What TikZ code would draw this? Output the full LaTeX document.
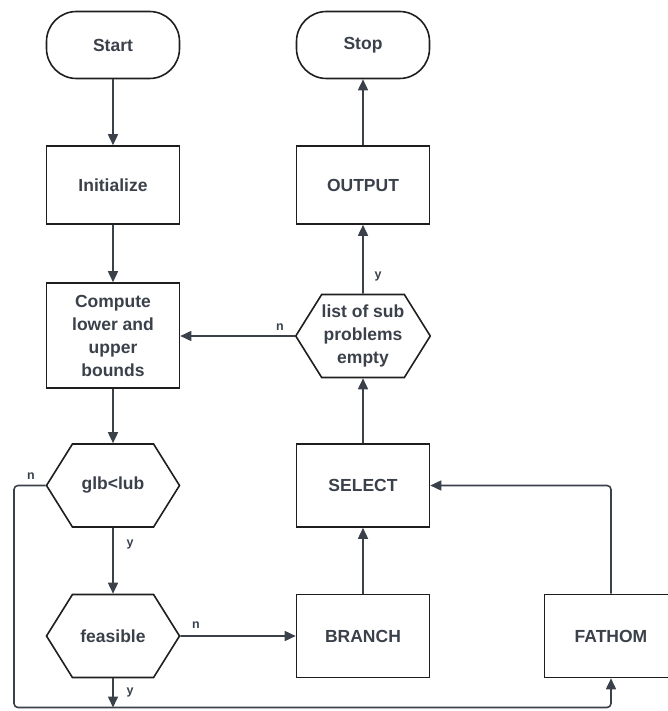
\documentclass[tikz,border=0pt]{standalone}
\usepackage{fontspec}
\setmainfont{Liberation Sans}
\usetikzlibrary{arrows.meta,shapes.symbols}
\definecolor{ink}{HTML}{3A414A}
\definecolor{edge}{HTML}{1E1E1E}
\tikzset{
  box/.style={draw=edge, line width=1.6pt, minimum width=133pt, minimum height=78pt,
    inner sep=2pt, align=center, text=ink, font=\bfseries\fontsize{17.5}{23}\selectfont},
  term/.style={box, minimum height=67pt, rounded corners=30pt},
  hexa/.style={box, shape=signal, signal to=east and west, signal pointer angle=116,
    minimum height=83pt, inner xsep=0pt},
  conn/.style={draw=ink, line width=1.6pt, -{Triangle[length=11pt,width=10pt]}},
  tag/.style={text=ink, font=\bfseries\fontsize{12.5}{14}\selectfont, inner sep=0pt}
}
\begin{document}
\begin{tikzpicture}[x=1pt, y=-1pt]
\useasboundingbox (0,0) rectangle (667,711);
% left column
\node[term] (start) at (113,45) {Start};
\node[box]  (init)  at (113,185) {Initialize};
\node[box, minimum height=105pt] (comp) at (113,335.5) {Compute\\lower and\\upper\\bounds};
\node[hexa] (glb)   at (113,485.5) {glb<lub};
\node[hexa] (feas)  at (113,636) {feasible};
% middle column
\node[term] (stop)  at (363,45) {Stop};
\node[box]  (out)   at (363,185) {OUTPUT};
\node[hexa] (list)  at (363,336) {list of sub\\problems\\empty};
\node[box, minimum height=83pt] (sel) at (363,485.5) {SELECT};
\node[box, minimum height=83pt] (branch) at (363,636) {BRANCH};
% right column
\node[box, minimum height=83pt] (fathom) at (611,636) {FATHOM};
% corners of the return line along the bottom
\coordinate (loopL) at (14,707.5);
\coordinate (loopB) at (113,707.5);

\draw[conn] (start) -- (init);
\draw[conn] (init) -- (comp);
\draw[conn] (comp) -- (glb);
\draw[conn] (glb) -- (feas);
\draw[conn] (feas) -- (branch);
\draw[conn] (branch) -- (sel);
\draw[conn] (sel) -- (list);
\draw[conn] (list.west) -- (comp.east |- list.west);
\draw[conn] (list) -- (out);
\draw[conn] (out) -- (stop);
\draw[conn, rounded corners=4pt] (fathom.north) |- (sel.east);
\draw[conn, rounded corners=4pt] (glb.west) -| (loopL) -| (fathom.south);
\draw[conn] (feas.south) -- (loopB);

\node[tag] at (31,476) {n};
\node[tag] at (130,544) {y};
\node[tag] at (196,625) {n};
\node[tag] at (130,692) {y};
\node[tag] at (280,327) {n};
\node[tag] at (378,276) {y};
\end{tikzpicture}
\end{document}
